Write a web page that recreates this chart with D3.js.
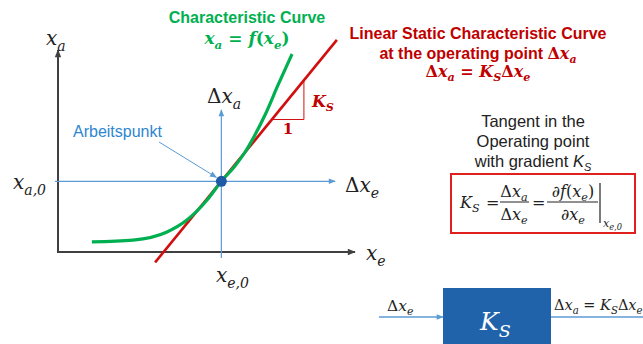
<!DOCTYPE html>
<html>
<head>
<meta charset="utf-8">
<script src="https://cdn.jsdelivr.net/npm/d3@7"></script>
<style>
  html, body { margin: 0; padding: 0; background: #fff; }
  svg { display: block; }
</style>
</head>
<body>
<svg id="chart" width="643" height="344"></svg>
<script>
// ---------------- DATA ----------------
// characteristic curve x_a = f(x_e) (data units)
const curveXe = [1.14, 2.53, 3.67, 4.34, 5.02, 5.50, 5.96, 6.30, 6.63, 6.97, 7.41, 7.88];
const curveXa = [0.50, 0.59, 0.99, 1.58, 2.57, 3.50, 4.26, 4.95, 5.79, 6.78, 8.27, 9.80];
// operating point (x_e,0 , x_a,0)
const opPoint = [5.5, 3.5];
// tangent gradient K_S and extent of the tangent line
const gradientKS = [1.8];
const tangentXe = [3.27, 9.39];
// slope triangle (run from .. to)
const triangleXe = [7.2, 8.28];
// axes extents
const axisXe = [0, 10];
const axisXa = [0, 10];
const deltaAxisXe = [-0.1, 9.33];
const deltaAxisXa = [-0.3, 7.03];

// ---------------- SCALES ----------------
const svg = d3.select("#chart");
const x = d3.scaleLinear().domain([0, 10]).range([58, 355]);
const y = d3.scaleLinear().domain([0, 10]).range([252, 50]);

const C = {
  green: "#00b050", red: "#c00000", redLine: "#d10f0f", blue: "#5b9bd5",
  blueTxt: "#2e86d0", dot: "#1f5aa6", block: "#2163ab", axis: "#404040", text: "#222"
};
const SERIF = "'DejaVu Serif', 'Liberation Serif', serif";
const SANS = "'Liberation Sans', Arial, sans-serif";

// arrow markers
const defs = svg.append("defs");
function marker(id, color, w, h) {
  defs.append("marker").attr("id", id).attr("viewBox", "0 0 10 10")
    .attr("refX", 9).attr("refY", 5).attr("markerWidth", w).attr("markerHeight", h)
    .attr("markerUnits", "userSpaceOnUse").attr("orient", "auto")
    .append("path").attr("d", "M0,1 L10,5 L0,9 Z").attr("fill", color);
}
marker("arrBlack", C.axis, 9, 8);
marker("arrBlue", C.blue, 8, 7);

// math text helper: parts = [[text, flags]] flags: i=italic, s=subscript
function mathText(g, px, py, parts, opt) {
  const size = opt.size;
  const t = g.append("text").attr("x", px).attr("y", py)
    .attr("font-family", opt.family || SERIF).attr("font-size", size)
    .attr("fill", opt.fill || C.text).attr("text-anchor", opt.anchor || "start")
    .attr("font-weight", opt.weight || "normal");
  let inSub = false;
  parts.forEach(([txt, f]) => {
    f = f || "";
    const sub = f.includes("s");
    const ts = t.append("tspan").text(txt);
    if (f.includes("i")) ts.attr("font-style", "italic");
    if (sub) ts.attr("font-size", size * (opt.subScale || 0.7));
    if (sub && !inSub) ts.attr("dy", size * 0.28);
    if (!sub && inSub) ts.attr("dy", -size * 0.28);
    inSub = sub;
  });
  return t;
}

// ---------------- MAIN AXES ----------------
svg.append("line").attr("x1", x(axisXe[0])).attr("y1", y(axisXa[0]))
  .attr("x2", x(axisXe[0])).attr("y2", y(axisXa[1]))
  .attr("stroke", C.axis).attr("stroke-width", 2).attr("marker-end", "url(#arrBlack)");
svg.append("line").attr("x1", x(axisXe[0]) - 1).attr("y1", y(axisXa[0]))
  .attr("x2", x(axisXe[1])).attr("y2", y(axisXa[0]))
  .attr("stroke", C.axis).attr("stroke-width", 2).attr("marker-end", "url(#arrBlack)");

// delta axes (blue)
svg.append("line").attr("x1", x(deltaAxisXe[0])).attr("y1", y(opPoint[1]))
  .attr("x2", x(deltaAxisXe[1])).attr("y2", y(opPoint[1]))
  .attr("stroke", C.blue).attr("stroke-width", 1.2).attr("marker-end", "url(#arrBlue)");
svg.append("line").attr("x1", x(opPoint[0])).attr("y1", y(deltaAxisXa[0]))
  .attr("x2", x(opPoint[0])).attr("y2", y(deltaAxisXa[1]))
  .attr("stroke", C.blue).attr("stroke-width", 1.2).attr("marker-end", "url(#arrBlue)");

// ---------------- TANGENT (red) ----------------
const K = gradientKS[0];
const tan = xe => opPoint[1] + K * (xe - opPoint[0]);
svg.append("line")
  .attr("x1", x(tangentXe[0])).attr("y1", y(tan(tangentXe[0])))
  .attr("x2", x(tangentXe[1])).attr("y2", y(tan(tangentXe[1])))
  .attr("stroke", C.redLine).attr("stroke-width", 2.6);

// slope triangle
svg.append("path")
  .attr("d", `M${x(triangleXe[0])},${y(tan(triangleXe[0]))} L${x(triangleXe[1])},${y(tan(triangleXe[0]))} L${x(triangleXe[1])},${y(tan(triangleXe[1]))}`)
  .attr("fill", "none").attr("stroke", C.redLine).attr("stroke-width", 1);
mathText(svg, x(triangleXe[0]) + 11, y(tan(triangleXe[0])) + 15, [["1"]],
  { size: 15, fill: C.red, weight: "bold" });
mathText(svg, x(triangleXe[1]) + 8, y((tan(triangleXe[0]) + tan(triangleXe[1])) / 2) + 7,
  [["K", "i"], ["S", "is"]], { size: 16, fill: C.red, weight: "bold" });

// ---------------- CHARACTERISTIC CURVE (green) ----------------
const curve = curveXe.map((d, i) => [d, curveXa[i]]);
svg.append("path").datum(curve)
  .attr("d", d3.line().x(d => x(d[0])).y(d => y(d[1])).curve(d3.curveMonotoneX))
  .attr("fill", "none").attr("stroke", C.green).attr("stroke-width", 3.2).attr("stroke-linecap", "butt");

// operating point
svg.append("circle").attr("cx", x(opPoint[0])).attr("cy", y(opPoint[1])).attr("r", 5.5)
  .attr("fill", C.dot);

// Arbeitspunkt label + arrow
svg.append("text").attr("x", 73).attr("y", 137).attr("font-family", SANS)
  .attr("font-size", 16).attr("fill", C.blueTxt).text("Arbeitspunkt");
svg.append("line").attr("x1", 159).attr("y1", 142)
  .attr("x2", x(opPoint[0]) - 5).attr("y2", y(opPoint[1]) - 4)
  .attr("stroke", C.blue).attr("stroke-width", 1).attr("marker-end", "url(#arrBlue)");

// ---------------- AXIS LABELS ----------------
mathText(svg, 46, 45, [["x", "i"], ["a", "is"]], { size: 20 });
mathText(svg, 13, 189, [["x", "i"], ["a,0", "is"]], { size: 20 });
mathText(svg, 366, 260, [["x", "i"], ["e", "is"]], { size: 20 });
mathText(svg, 216, 282, [["x", "i"], ["e,0", "is"]], { size: 20 });
mathText(svg, 345, 192, [["Δ"], ["x", "i"], ["e", "is"]], { size: 20 });
mathText(svg, 207, 103, [["Δ"], ["x", "i"], ["a", "is"]], { size: 20 });

// ---------------- TITLES ----------------
svg.append("text").attr("x", 247).attr("y", 23).attr("text-anchor", "middle")
  .attr("font-family", SANS).attr("font-weight", "bold").attr("font-size", 16)
  .attr("fill", C.green).text("Characteristic Curve");
mathText(svg, 247, 44, [["x", "i"], ["a", "is"], [" = "], ["f", "i"], ["("], ["x", "i"], ["e", "is"], [")"]],
  { size: 17, fill: C.green, weight: "bold", anchor: "middle" });

svg.append("text").attr("x", 478).attr("y", 39).attr("text-anchor", "middle")
  .attr("font-family", SANS).attr("font-weight", "bold").attr("font-size", 16)
  .attr("fill", C.red).text("Linear Static Characteristic Curve");
const l2 = svg.append("text").attr("x", 478).attr("y", 59).attr("text-anchor", "middle")
  .attr("font-family", SANS).attr("font-weight", "bold").attr("font-size", 16).attr("fill", C.red);
l2.append("tspan").text("at the operating point ");
l2.append("tspan").attr("font-family", SERIF).attr("font-size", 16).text("Δ");
l2.append("tspan").attr("font-family", SERIF).attr("font-size", 16).attr("font-style", "italic").text("x");
l2.append("tspan").attr("font-family", SERIF).attr("font-size", 11).attr("font-style", "italic").attr("dy", 4).text("a");
mathText(svg, 478, 77, [["Δ"], ["x", "i"], ["a", "is"], [" = "], ["K", "i"], ["S", "is"], ["Δ"], ["x", "i"], ["e", "is"]],
  { size: 16, fill: C.red, weight: "bold", anchor: "middle" });

// tangent description
const tLines = ["Tangent in the", "Operating point", "with gradient "];
tLines.forEach((s, i) => {
  const t = svg.append("text").attr("x", 533).attr("y", 127 + i * 20).attr("text-anchor", "middle")
    .attr("font-family", SANS).attr("font-size", 16.5).attr("fill", C.text).text(s);
  if (i === 2) {
    t.append("tspan").attr("font-style", "italic").text("K");
    t.append("tspan").attr("font-style", "italic").attr("font-size", 11).attr("dy", 4).text("S");
  }
});

// formula box
svg.append("rect").attr("x", 451).attr("y", 174).attr("width", 184).attr("height", 59)
  .attr("fill", "none").attr("stroke", "#e0201f").attr("stroke-width", 2);
const FS = 16;
mathText(svg, 460, 208, [["K", "i"], ["S", "is"]], { size: FS });
mathText(svg, 486, 208, [["="]], { size: FS });
mathText(svg, 514, 197, [["Δ"], ["x", "i"], ["a", "is"]], { size: FS, anchor: "middle" });
mathText(svg, 514, 220, [["Δ"], ["x", "i"], ["e", "is"]], { size: FS, anchor: "middle" });
svg.append("line").attr("x1", 500).attr("x2", 529).attr("y1", 202).attr("y2", 202).attr("stroke", C.text).attr("stroke-width", 1);
mathText(svg, 532, 208, [["="]], { size: FS });
mathText(svg, 573, 197, [["∂"], ["f", "i"], ["("], ["x", "i"], ["e", "is"], [")"]], { size: FS, anchor: "middle" });
mathText(svg, 573, 220, [["∂"], ["x", "i"], ["e", "is"]], { size: FS, anchor: "middle" });
svg.append("line").attr("x1", 547).attr("x2", 598).attr("y1", 202).attr("y2", 202).attr("stroke", C.text).attr("stroke-width", 1);
svg.append("line").attr("x1", 600).attr("x2", 600).attr("y1", 183).attr("y2", 223).attr("stroke", C.text).attr("stroke-width", 1.2);
mathText(svg, 603, 227, [["x", "i"], ["e,0", "is"]], { size: 11, subScale: 0.75 });

// ---------------- BLOCK DIAGRAM ----------------
svg.append("rect").attr("x", 443).attr("y", 288).attr("width", 108).attr("height", 60)
  .attr("fill", C.block);
mathText(svg, 480, 330, [["K", "i"], ["S", "is"]], { size: 25, fill: "#fff" });
svg.append("line").attr("x1", 379).attr("x2", 443).attr("y1", 317).attr("y2", 317)
  .attr("stroke", C.blue).attr("stroke-width", 1.5).attr("marker-end", "url(#arrBlue)");
svg.append("line").attr("x1", 551).attr("x2", 643).attr("y1", 317).attr("y2", 317)
  .attr("stroke", C.blue).attr("stroke-width", 1.5);
mathText(svg, 387, 311, [["Δ"], ["x", "i"], ["e", "is"]], { size: 15.5 });
mathText(svg, 554, 310, [["Δ"], ["x", "i"], ["a", "is"], [" = "], ["K", "i"], ["S", "is"], ["Δ"], ["x", "i"], ["e", "is"]], { size: 14.5 });
</script>
</body>
</html>
